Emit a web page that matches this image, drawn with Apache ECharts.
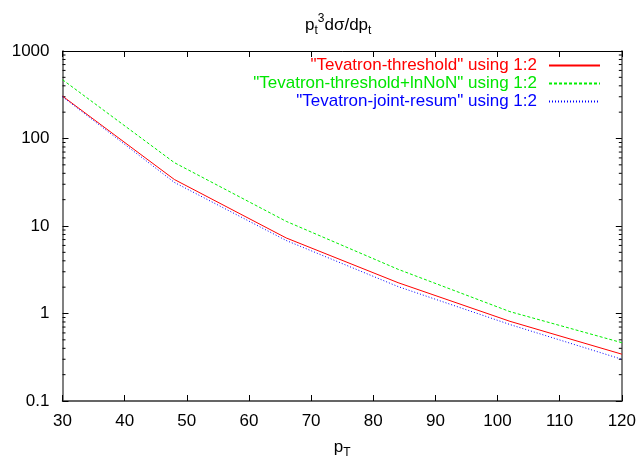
<!DOCTYPE html>
<html>
<head>
<meta charset="utf-8">
<script src="https://cdn.jsdelivr.net/npm/echarts@6/dist/echarts.min.js"></script>
<style>
  html, body { margin: 0; padding: 0; background: #fff; }
  #chart { width: 639px; height: 464px; }
</style>
</head>
<body>
<div id="chart"></div>
<script>
// pT knots and the three curves
const ptValues = [30, 48, 66, 84, 102, 120];
const threshold = [305, 34, 7.3, 2.25, 0.814, 0.343];
const thresholdLnNoN = [470, 53, 11.3, 3.2, 1.05, 0.464];
const jointResum = [300, 31.5, 6.83, 2.03, 0.748, 0.30];
const seriesNames = [
  '"Tevatron-threshold" using 1:2',
  '"Tevatron-threshold+lnNoN" using 1:2',
  '"Tevatron-joint-resum" using 1:2',
];
const seriesColors = ['#ff0000', '#00ee00', '#0000ff'];
const seriesDash = ['solid', [3, 2], [1, 2]];
// log minor ticks 2..9 in each decade
const minorTicks = [0.2, 0.3, 0.4, 0.5, 0.6, 0.7, 0.8, 0.9,
  2, 3, 4, 5, 6, 7, 8, 9,
  20, 30, 40, 50, 60, 70, 80, 90,
  200, 300, 400, 500, 600, 700, 800, 900];

const font = '"Liberation Sans", Arial, sans-serif';
const zip = (ys) => ptValues.map((x, i) => [x, ys[i]]);

const chart = echarts.init(document.getElementById('chart'), null, { renderer: 'canvas' });

const legendRow = (i, top) => ({
  data: [seriesNames[i]],
  right: 38,
  top,
  padding: 0,
  align: 'right',
  itemWidth: 51,
  itemHeight: 10,
  selectedMode: false,
  // hide the circle that ECharts adds to line-series legend icons
  itemStyle: { opacity: 0 },
  textStyle: {
    color: i === 1 ? '#00e600' : seriesColors[i],
    fontSize: 17,
    fontFamily: font,
    padding: [0, 7, 0, 0],
  },
});

const lineSeries = (i, ys) => ({
  name: seriesNames[i],
  type: 'line',
  data: zip(ys),
  symbol: 'none',
  lineStyle: { color: seriesColors[i], width: 1, type: seriesDash[i] },
  itemStyle: { color: seriesColors[i] },
});

chart.setOption({
  animation: false,
  title: {
    text: 'p{sub|t}{sup|3}dσ/dp{sub|t}',
    left: 305,
    top: 13,
    padding: 0,
    textStyle: {
      fontSize: 17,
      fontWeight: 'normal',
      fontFamily: font,
      color: '#000',
      lineHeight: 24,
      rich: {
        sub: { fontSize: 12, lineHeight: 12, verticalAlign: 'bottom', fontFamily: font },
        sup: { fontSize: 12, lineHeight: 12, verticalAlign: 'top', fontFamily: font },
      },
    },
  },
  legend: [legendRow(0, 57), legendRow(1, 75), legendRow(2, 93)],
  grid: { left: 62.5, right: 16, top: 51, bottom: 59 },
  xAxis: [{
    type: 'value',
    min: 30,
    max: 120,
    interval: 10,
    name: 'p{sub|T}',
    nameLocation: 'middle',
    nameGap: 34,
    nameTextStyle: {
      fontSize: 17,
      fontFamily: font,
      color: '#000',
      lineHeight: 24,
      rich: { sub: { fontSize: 12, lineHeight: 12, verticalAlign: 'bottom', fontFamily: font } },
    },
    axisLine: { lineStyle: { color: '#333', width: 1.5 } },
    axisTick: { inside: true, length: 6, lineStyle: { color: '#000' } },
    axisLabel: { margin: 12, fontSize: 17, fontFamily: font, color: '#000' },
    splitLine: { show: false },
  }, {
    type: 'value',
    position: 'top',
    min: 30,
    max: 120,
    interval: 10,
    axisLine: { lineStyle: { color: '#000', width: 1 } },
    axisTick: { inside: true, length: 6, lineStyle: { color: '#000' } },
    axisLabel: { show: false },
    splitLine: { show: false },
  }],
  yAxis: [{
    type: 'log',
    logBase: 10,
    min: 0.1,
    max: 1000,
    axisLine: { show: true, lineStyle: { color: '#808080', width: 2 } },
    axisTick: { show: true, inside: true, length: 6, lineStyle: { color: '#000' } },
    axisLabel: {
      margin: 13,
      fontSize: 17,
      fontFamily: font,
      color: '#000',
      formatter: (v) => String(+v.toPrecision(3)),
    },
    splitLine: { show: false },
  }, {
    type: 'log',
    logBase: 10,
    position: 'right',
    min: 0.1,
    max: 1000,
    axisLine: { show: true, lineStyle: { color: '#808080', width: 2 } },
    axisTick: { show: true, inside: true, length: 6, lineStyle: { color: '#000' } },
    axisLabel: { show: false },
    splitLine: { show: false },
  }],
  series: [
    lineSeries(0, threshold),
    lineSeries(1, thresholdLnNoN),
    lineSeries(2, jointResum),
    {
      // minor log ticks on left and right borders
      type: 'custom',
      silent: true,
      data: minorTicks.map((v) => [30, v]),
      renderItem: (params, api) => {
        const v = api.value(1);
        const l = api.coord([30, v]);
        const r = api.coord([120, v]);
        const style = { stroke: '#000', lineWidth: 1 };
        return {
          type: 'group',
          children: [
            { type: 'line', shape: { x1: l[0], y1: l[1], x2: l[0] + 3, y2: l[1] }, style },
            { type: 'line', shape: { x1: r[0], y1: r[1], x2: r[0] - 3, y2: r[1] }, style },
          ],
        };
      },
    },
  ],
});
</script>
</body>
</html>
